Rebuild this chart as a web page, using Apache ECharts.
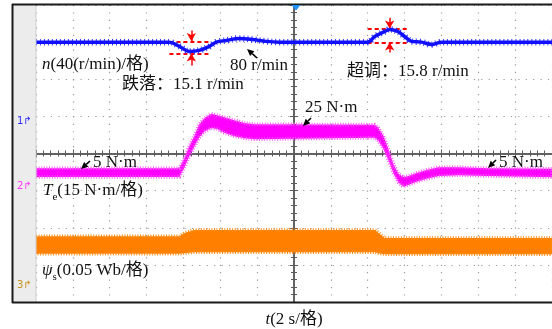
<!DOCTYPE html>
<html><head><meta charset="utf-8">
<script src="https://cdn.jsdelivr.net/npm/echarts@6/dist/echarts.min.js"></script>
<style>html,body{margin:0;padding:0;background:#fff;}#c{width:552px;height:329px;}</style>
</head><body><div id="c"></div>
<script>
// ---- axes: time relative to trigger (s), 2 s per division; vertical in divisions
const timeRange = [-14, 14];
const timeStep = 2;
const divRange = [-4, 4];
const divStep = 1;

// ---- Channel 1: speed n (r/min)
const speedT = [-14, -6.76, -6.22, -5.68, -5.14, -4.59, -4.22, -3.68, -2.97, -2.27, -1.51, -0.81, 4.0, 4.38, 4.92, 5.19, 5.62, 6.0, 6.38, 6.92, 7.46, 8.0, 14];
const speedN = [80, 80, 75.4, 70.0, 71.1, 75.4, 80, 81.8, 84.0, 82.9, 80.8, 80, 80, 86.1, 91.5, 93.7, 91.5, 86.1, 80.8, 80, 77.5, 80, 80];

// ---- Channel 2: torque Te (N·m), band of the noisy trace
const torqueT  = [-14, -6.22, -5.95, -5.68, -5.41, -5.14, -4.86, -4.49, -4.16, -3.78, -3.24, -2.70, -2.16, 4.38, 4.59, 4.86, 5.14, 5.41, 5.68, 5.95, 6.22, 6.65, 7.19, 7.84, 8.92, 10.54, 14];
const torqueHi = [7.0, 7.0, 11.0, 16.0, 20.0, 24.8, 27.2, 29.0, 28.4, 27.6, 26.4, 25.3, 24.8, 24.6, 23.2, 20.0, 14.4, 8.3, 4.7, 3.4, 3.9, 5.1, 6.3, 7.4, 7.4, 7.0, 6.8];
const torqueLo = [3.5, 3.5, 7.3, 11.8, 15.8, 19.4, 21.8, 23.2, 22.8, 21.3, 19.9, 19.1, 18.7, 19.3, 18.0, 14.8, 10.0, 4.8, 1.1, -0.5, 0.3, 1.5, 2.7, 3.9, 4.2, 3.9, 3.3];

// ---- Channel 3: stator flux psi_s (Wb), band of the ripple
const fluxT  = [-14, -6.22, -5.95, -5.41, 4.38, 4.59, 4.92, 14];
const fluxHi = [0.0650, 0.0650, 0.0696, 0.0736, 0.0736, 0.0696, 0.0628, 0.0628];
const fluxLo = [0.0415, 0.0415, 0.0423, 0.0436, 0.0436, 0.0423, 0.0409, 0.0409];

// ---- speed annotations (r/min)
const dipSpan = [-6.76, -4.59];
const dipLevels = [80.8, 67.8];
const dipArrowT = -5.57;
const dipArrows = [[92.6, 81.1], [54.9, 67.8]];
const overSpan = [4.0, 6.16];
const overLevels = [94.8, 79.7];
const overArrowT = 5.19;
const overArrows = [[106.3, 94.8], [68.9, 79.7]];

// channel settings: zero position (divisions) and units per division
const chN   = {offset: 1.0,    perDiv: 40};
const chTe  = {offset: -0.863, perDiv: 15};
const chPsi = {offset: -3.531, perDiv: 0.05};
const toDiv = (v, c) => c.offset + v / c.perDiv;

const SERIF = '"Liberation Serif","Times New Roman","Noto Sans CJK SC",serif';
const FS = 17;

function band(T, hi, lo, c, color, edge, z) {
  return {
    type: 'custom', coordinateSystem: 'cartesian2d', clip: true, silent: true, z: z,
    encode: {x: 0, y: [1, 2]},
    data: T.map((t, i) => [t, toDiv(hi[i], c), toDiv(lo[i], c)]),
    renderItem(params, api) {
      if (params.dataIndexInside !== 0) return null;
      const n = params.dataInsideLength;
      const up = [], dn = [];
      for (let j = 0; j < n; j++) {
        up.push(api.coord([api.value(0, j), api.value(1, j)]));
        dn.push(api.coord([api.value(0, j), api.value(2, j)]));
      }
      return {type: 'polygon', shape: {points: up.concat(dn.reverse())},
        style: {fill: color, stroke: edge, lineWidth: 3.5, lineDash: [1, 1.6]}};
    }
  };
}

const mlData = [];
[[dipSpan, dipLevels], [overSpan, overLevels]].forEach(([span, levels]) => {
  levels.forEach(v => mlData.push([{coord: [span[0], toDiv(v, chN)]}, {coord: [span[1], toDiv(v, chN)]}]));
});
[[dipArrowT, dipArrows], [overArrowT, overArrows]].forEach(([t, pairs]) => {
  pairs.forEach(p => {
    const ls = {type: 'solid', width: 1.5, color: '#ff0000'};
    mlData.push([{coord: [t, toDiv(p[0], chN)], symbol: 'none', lineStyle: ls},
                 {coord: [t, toDiv(p[1], chN)], symbol: 'arrow', symbolSize: [7, 8], lineStyle: ls}]);
  });
});

function axisCommon() {
  return {
    type: 'value', axisLabel: {show: false},
    axisLine: {show: true, onZero: true, lineStyle: {color: '#5a5a5a', width: 1.5}},
    axisTick: {show: true, length: 4, lineStyle: {color: '#5a5a5a', width: 1}},
    minorTick: {show: true, splitNumber: 5, length: 3, lineStyle: {color: '#5a5a5a', width: 1}},
    minorSplitLine: {show: false}
  };
}
const dotted = {color: '#9a9a9a', width: 1.2, type: [1.2, 6.22]};

function txt(x, y, text, rich, align) {
  return {type: 'text', z: 120, x: x, y: y,
    style: {text: text, font: FS + 'px ' + SERIF, fill: '#111',
      align: align || 'left', textAlign: align || 'left', verticalAlign: 'middle', textVerticalAlign: 'middle',
      rich: rich || {}}};
}
const richBase = {
  i: {fontStyle: 'italic', fontSize: FS, fontFamily: SERIF, lineHeight: 24, fill: '#111'},
  sub: {fontSize: 11, fontFamily: SERIF, verticalAlign: 'bottom', lineHeight: 24, fill: '#111'}
};
function arrowEls(x1, y1, x2, y2, color) {
  const ang = Math.atan2(y2 - y1, x2 - x1), L = 7, W = 3.2;
  const bx = x2 - L * Math.cos(ang), by = y2 - L * Math.sin(ang);
  const px = -Math.sin(ang) * W, py = Math.cos(ang) * W;
  return [
    {type: 'line', z: 120, shape: {x1: x1, y1: y1, x2: bx, y2: by}, style: {stroke: color, lineWidth: 1.6}},
    {type: 'polygon', z: 120, shape: {points: [[x2, y2], [bx + px, by + py], [bx - px, by - py]]}, style: {fill: color}}
  ];
}
function marker(y, label, color) {
  return {type: 'text', z: 120, x: 17, y: y,
    style: {text: label + '↱', font: '10px "DejaVu Sans",sans-serif', fill: color,
      verticalAlign: 'middle', textVerticalAlign: 'middle'}};
}

const graphics = [
  {type: 'rect', z: 90, shape: {x: 13, y: 5, width: 23, height: 297}, style: {fill: '#ececec'}},
  {type: 'line', z: 91, shape: {x1: 36, y1: 5, x2: 36, y2: 302}, style: {stroke: '#cfcfcf', lineWidth: 1}},
  {type: 'line', z: 110, shape: {x1: 12, y1: 4.5, x2: 552, y2: 4.5}, style: {stroke: '#1a1a1a', lineWidth: 2}},
  {type: 'line', z: 110, shape: {x1: 12.5, y1: 4, x2: 12.5, y2: 303}, style: {stroke: '#1a1a1a', lineWidth: 2}},
  {type: 'line', z: 110, shape: {x1: 12, y1: 302.5, x2: 552, y2: 302.5}, style: {stroke: '#1a1a1a', lineWidth: 2}},
  {type: 'polygon', z: 111, shape: {points: [[291.5, 5], [300.5, 5], [296, 10.5]]}, style: {fill: '#1e90ff'}},
  marker(121, '1', '#2a2aff'),
  marker(186, '2', '#ff33ff'),
  marker(285, '3', '#c8901e'),
  txt(42, 65, '{i|n}(40(r/min)/格)', richBase),
  txt(122, 85, '跌落：15.1 r/min'),
  txt(230, 66, '80 r/min'),
  txt(347, 72, '超调：15.8 r/min'),
  txt(305, 108, '25 N·m'),
  txt(93, 163, '5 N·m'),
  txt(499, 163, '5 N·m'),
  txt(43, 191, '{i|T}{sub|e}(15 N·m/格)', richBase),
  txt(42, 271, '{i|ψ}{sub|s}(0.05 Wb/格)', richBase),
  txt(294, 320, '{i|t}(2 s/格)', richBase, 'center')
].concat(
  arrowEls(257, 58, 247, 49, '#000'),
  arrowEls(311, 118, 303, 126, '#000'),
  arrowEls(90, 161, 81, 169, '#000'),
  arrowEls(496, 160, 488, 168, '#000')
);

const speedData = speedT.map((t, i) => [t, toDiv(speedN[i], chN)]);

const chart = echarts.init(document.getElementById('c'), null, {renderer: 'canvas'});
chart.setOption({
  animation: false,
  backgroundColor: '#ffffff',
  grid: {left: 36, top: 5, width: 518, height: 297, containLabel: false},
  xAxis: [
    Object.assign(axisCommon(), {min: timeRange[0], max: timeRange[1], interval: timeStep, position: 'bottom',
      splitLine: {show: true, lineStyle: dotted}}),
    Object.assign(axisCommon(), {min: timeRange[0], max: timeRange[1], interval: timeStep, position: 'top',
      splitLine: {show: false}})
  ],
  yAxis: [
    Object.assign(axisCommon(), {min: divRange[0], max: divRange[1], interval: divStep, position: 'left',
      splitLine: {show: true, lineStyle: dotted}}),
    Object.assign(axisCommon(), {min: divRange[0], max: divRange[1], interval: divStep, position: 'right',
      splitLine: {show: false}})
  ],
  series: [
    band(fluxT, fluxHi, fluxLo, chPsi, '#ff8000', '#ff8a10', 3),
    band(torqueT, torqueHi, torqueLo, chTe, '#ff00ff', '#ff55ff', 4),
    {
      type: 'line', z: 5, clip: true, silent: true,
      data: speedData,
      showSymbol: false, symbol: 'none', smooth: 0.35,
      lineStyle: {color: '#3a3aff', width: 6.5, type: [1, 3]}
    },
    {
      type: 'line', z: 6, clip: true, silent: true,
      data: speedData,
      showSymbol: false, symbol: 'none', smooth: 0.35,
      lineStyle: {color: '#1010ff', width: 3.5},
      markLine: {
        silent: true, symbol: ['none', 'none'], label: {show: false},
        lineStyle: {color: '#ff0000', width: 2, type: [4, 3]},
        emphasis: {disabled: true},
        data: mlData
      }
    }
  ],
  graphic: graphics
});
</script>
</body></html>
